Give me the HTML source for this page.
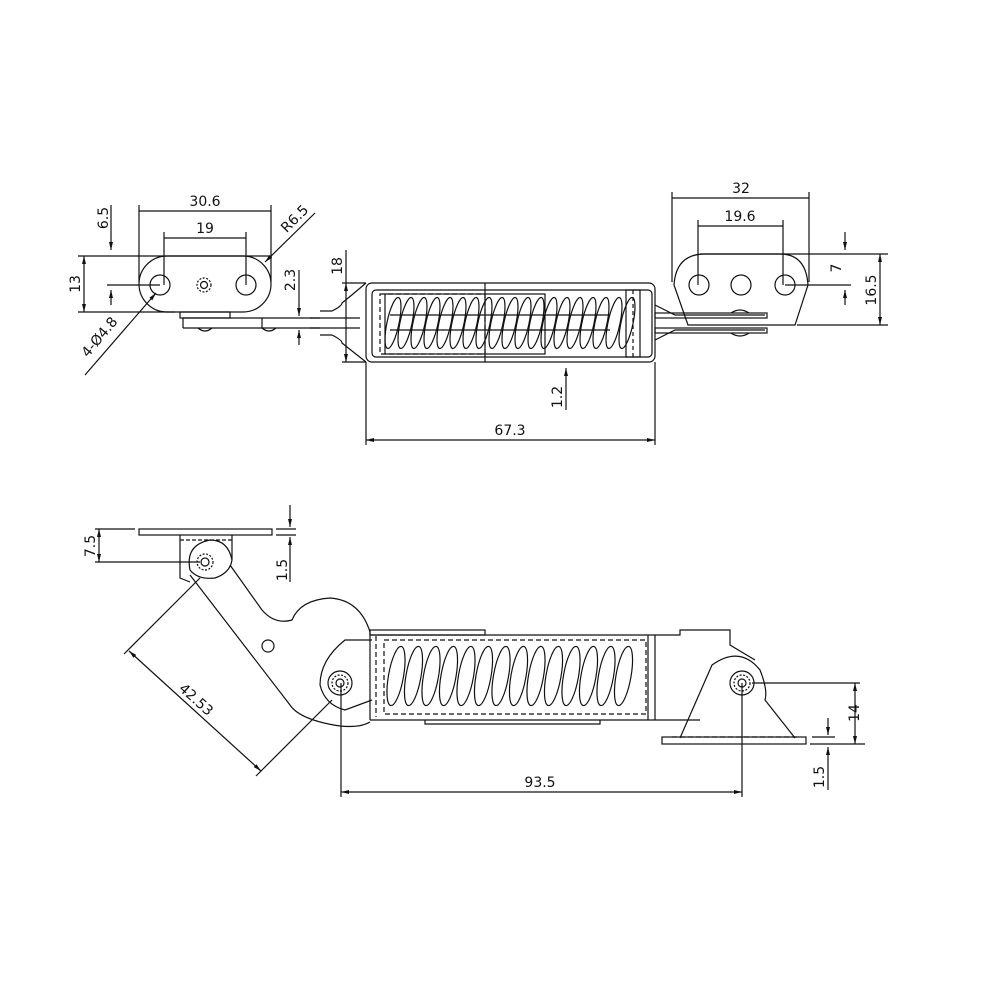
<!DOCTYPE html>
<html><head><meta charset="utf-8"><style>
html,body{margin:0;padding:0;background:#fff;}
svg{display:block;}
text{font-family:"DejaVu Sans","Liberation Sans",sans-serif;font-size:14px;fill:#111;}
</style></head><body>
<svg width="1000" height="1000" viewBox="0 0 1000 1000" xmlns="http://www.w3.org/2000/svg">
<defs>
<marker id="a" markerWidth="8" markerHeight="6" refX="8" refY="3" orient="auto-start-reverse" markerUnits="userSpaceOnUse"><path d="M0,1 L8,3 L0,5z" fill="#111"/></marker>
<ellipse id="c1" cx="0" cy="0" rx="6" ry="26" transform="rotate(12)"/>
<ellipse id="c2" cx="0" cy="0" rx="7.5" ry="30" transform="rotate(10)"/>
</defs>
<g fill="none" stroke="#111" stroke-width="1.2">
<!-- TOP LEFT PLATE -->
<rect x="139" y="256" width="132" height="56" rx="28"/>
<circle cx="160" cy="285" r="10"/><circle cx="246" cy="285" r="10"/>
<circle cx="204" cy="285" r="7" stroke-dasharray="2,1.5"/><circle cx="204" cy="285" r="3.5"/>
<line x1="139" y1="211" x2="271" y2="211"/><line x1="139" y1="205" x2="139" y2="282"/><line x1="271" y1="205" x2="271" y2="282"/>
<line x1="164" y1="238" x2="246" y2="238"/><line x1="164" y1="232" x2="164" y2="285"/><line x1="246" y1="232" x2="246" y2="285"/>
<line x1="265" y1="262" x2="315" y2="213" marker-start="url(#a)"/>
<line x1="111" y1="205" x2="111" y2="250" marker-end="url(#a)"/>
<line x1="78" y1="256" x2="272" y2="256"/><line x1="78" y1="312" x2="175" y2="312"/>
<line x1="84" y1="256" x2="84" y2="312" marker-start="url(#a)" marker-end="url(#a)"/>
<line x1="107" y1="285" x2="160" y2="285"/><line x1="111" y1="290" x2="111" y2="305" marker-start="url(#a)"/>
<line x1="156" y1="293" x2="85" y2="375" marker-start="url(#a)"/>
<rect x="180" y="312" width="50" height="6"/>
<line x1="183" y1="318" x2="320" y2="318"/><line x1="183" y1="328" x2="320" y2="328"/><line x1="183" y1="318" x2="183" y2="328"/>
<line x1="262" y1="318" x2="262" y2="328"/>
<path d="M198 328 q7 6 14 0 M262 328 q7 6 14 0"/>
<line x1="299" y1="270" x2="299" y2="316" marker-end="url(#a)"/><line x1="299" y1="345" x2="299" y2="330" marker-end="url(#a)"/>
<!-- neck -->
<path d="M320 311 h12 q10 -5 10 -8 q10 -8 24 -20 M320 335 h12 q10 5 10 8 q10 8 24 19"/>
<path d="M310 318 h50 M310 328 h50"/>
<!-- TOP SPRING BODY -->
<rect x="366" y="283" width="289" height="79" rx="6"/>
<rect x="372" y="290" width="280" height="67" rx="4"/>
<line x1="485" y1="283" x2="485" y2="362"/>
<rect x="380" y="294" width="105" height="60" stroke-dasharray="5,3"/>
<rect x="385" y="294" width="160" height="60"/>
<line x1="390" y1="315" x2="610" y2="315"/><line x1="390" y1="330" x2="610" y2="330"/>
<g transform="translate(0,323)">
<use href="#c1" x="393"/><use href="#c1" x="406"/><use href="#c1" x="419"/><use href="#c1" x="432"/><use href="#c1" x="445"/><use href="#c1" x="458"/><use href="#c1" x="471"/><use href="#c1" x="484"/><use href="#c1" x="497"/><use href="#c1" x="510"/><use href="#c1" x="523"/><use href="#c1" x="536"/><use href="#c1" x="549"/><use href="#c1" x="562"/><use href="#c1" x="575"/><use href="#c1" x="588"/><use href="#c1" x="601"/><use href="#c1" x="614"/><use href="#c1" x="627"/>
</g>
<rect x="626" y="290" width="14" height="67"/>
<line x1="633" y1="290" x2="633" y2="357" stroke-dasharray="4,3"/>
<path d="M655 305 q10 5 20 10 h90 M655 340 q10 -5 20 -10 h90"/>
<line x1="346" y1="283" x2="346" y2="362" marker-start="url(#a)" marker-end="url(#a)"/>
<line x1="342" y1="283" x2="366" y2="283"/><line x1="342" y1="362" x2="366" y2="362"/>
<line x1="346" y1="250" x2="346" y2="283"/>
<line x1="366" y1="362" x2="366" y2="445"/><line x1="655" y1="362" x2="655" y2="445"/>
<line x1="366" y1="440" x2="655" y2="440" marker-start="url(#a)" marker-end="url(#a)"/>
<line x1="566" y1="410" x2="566" y2="368" marker-end="url(#a)"/>
<!-- TOP RIGHT PLATE -->
<path d="M688 325 L674 285 Q676 254 705 254 H780 Q806 254 808 285 L795 325 Z"/>
<circle cx="699" cy="285" r="10"/><circle cx="741" cy="285" r="10"/><circle cx="785" cy="285" r="10"/>
<rect x="655" y="313" width="112" height="5"/><rect x="655" y="328" width="112" height="5"/>
<path d="M731 313 q9 -6 18 0 M731 333 q9 6 18 0"/>
<line x1="672" y1="198" x2="809" y2="198"/><line x1="672" y1="192" x2="672" y2="282"/><line x1="809" y1="192" x2="809" y2="282"/>
<line x1="698" y1="226" x2="783" y2="226"/><line x1="698" y1="220" x2="698" y2="285"/><line x1="783" y1="220" x2="783" y2="285"/>
<line x1="700" y1="254" x2="888" y2="254"/><line x1="797" y1="325" x2="888" y2="325"/>
<line x1="785" y1="285" x2="851" y2="285"/>
<line x1="845" y1="232" x2="845" y2="250" marker-end="url(#a)"/><line x1="845" y1="305" x2="845" y2="290" marker-end="url(#a)"/>
<line x1="880" y1="254" x2="880" y2="325" marker-start="url(#a)" marker-end="url(#a)"/>
<!-- BOTTOM LEFT -->
<rect x="139" y="529" width="133" height="6"/>
<path d="M180 535 V578 L190 582 M232 535 V560"/>
<line x1="180" y1="540" x2="232" y2="540" stroke-dasharray="4,2"/>
<circle cx="205" cy="562" r="8" stroke-dasharray="2,1.5"/><circle cx="205" cy="562" r="4"/>
<path d="M190 570 Q185 545 210 540 Q228 540 232 560 Q230 573 215 578 Q198 580 190 570"/>
<path d="M190 575 L290 705 Q300 720 340 726 Q360 728 370 722"/>
<path d="M230 565 L262 610 Q275 625 292 620 Q300 600 330 598 Q360 600 370 632"/>
<circle cx="268" cy="646" r="6"/>
<path d="M372 640 H345 Q320 660 320 685 Q325 705 345 710 L372 700"/>
<circle cx="340" cy="683" r="12"/><circle cx="340" cy="683" r="8" stroke-dasharray="2,1.5"/><circle cx="340" cy="683" r="4"/>
<line x1="95" y1="529" x2="135" y2="529"/><line x1="95" y1="562" x2="200" y2="562"/>
<line x1="99" y1="529" x2="99" y2="562" marker-start="url(#a)" marker-end="url(#a)"/>
<line x1="290" y1="505" x2="290" y2="527" marker-end="url(#a)"/><line x1="290" y1="582" x2="290" y2="537" marker-end="url(#a)"/>
<line x1="276" y1="529" x2="296" y2="529"/><line x1="276" y1="535" x2="296" y2="535"/>
<line x1="200" y1="578" x2="124" y2="654"/><line x1="332" y1="700" x2="256" y2="776"/>
<line x1="129" y1="651" x2="261" y2="771" marker-start="url(#a)" marker-end="url(#a)"/>
<!-- BOTTOM SPRING BODY -->
<rect x="370" y="630" width="115" height="5"/>
<path d="M370 635 H655 M370 720 H655 M370 630 V720 M425 720 V724 H600 V720"/>
<line x1="376" y1="636" x2="376" y2="717" stroke-dasharray="5,3"/>
<rect x="384" y="640" width="262" height="74" stroke-dasharray="5,3"/>
<line x1="648" y1="635" x2="648" y2="720"/><line x1="655" y1="635" x2="655" y2="720"/>
<g transform="translate(0,676)">
<use href="#c2" x="396"/><use href="#c2" x="413.5"/><use href="#c2" x="431"/><use href="#c2" x="448.5"/><use href="#c2" x="466"/><use href="#c2" x="483.5"/><use href="#c2" x="501"/><use href="#c2" x="518.5"/><use href="#c2" x="536"/><use href="#c2" x="553.5"/><use href="#c2" x="571"/><use href="#c2" x="588.5"/><use href="#c2" x="606"/><use href="#c2" x="623.5"/>
</g>
<path d="M655 635 H680 V630 H730 V645 L755 660"/>
<path d="M655 720 H700"/>
<path d="M680 738 L712 665 Q740 645 760 670 Q768 690 765 700 L795 738"/>
<circle cx="742" cy="683" r="12"/><circle cx="742" cy="683" r="8" stroke-dasharray="2,1.5"/><circle cx="742" cy="683" r="4"/>
<rect x="662" y="737" width="144" height="7"/>
<line x1="672" y1="737" x2="798" y2="737" stroke-dasharray="5,3"/>
<line x1="752" y1="683" x2="860" y2="683"/><line x1="810" y1="744" x2="865" y2="744"/><line x1="812" y1="737" x2="835" y2="737"/>
<line x1="855" y1="683" x2="855" y2="744" marker-start="url(#a)" marker-end="url(#a)"/>
<line x1="828" y1="718" x2="828" y2="735" marker-end="url(#a)"/><line x1="828" y1="790" x2="828" y2="747" marker-end="url(#a)"/>
<line x1="341" y1="683" x2="341" y2="797"/><line x1="742" y1="683" x2="742" y2="797"/>
<line x1="341" y1="792" x2="742" y2="792" marker-start="url(#a)" marker-end="url(#a)"/>
</g>
<g>
<text x="205" y="206" text-anchor="middle">30.6</text>
<text x="205" y="233" text-anchor="middle">19</text>
<text transform="translate(298,222) rotate(-45)" text-anchor="middle">R6.5</text>
<text transform="translate(108,218) rotate(-90)" text-anchor="middle">6.5</text>
<text transform="translate(80,284) rotate(-90)" text-anchor="middle">13</text>
<text transform="translate(103,340) rotate(-50)" text-anchor="middle">4-Ø4.8</text>
<text transform="translate(295,280) rotate(-90)" text-anchor="middle">2.3</text>
<text transform="translate(342,266) rotate(-90)" text-anchor="middle">18</text>
<text transform="translate(562,397) rotate(-90)" text-anchor="middle">1.2</text>
<text x="510" y="435" text-anchor="middle">67.3</text>
<text x="741" y="193" text-anchor="middle">32</text>
<text x="740" y="221" text-anchor="middle">19.6</text>
<text transform="translate(841,268) rotate(-90)" text-anchor="middle">7</text>
<text transform="translate(876,290) rotate(-90)" text-anchor="middle">16.5</text>
<text transform="translate(95,546) rotate(-90)" text-anchor="middle">7.5</text>
<text transform="translate(287,570) rotate(-90)" text-anchor="middle">1.5</text>
<text transform="translate(193,703) rotate(42)" text-anchor="middle">42.53</text>
<text x="540" y="787" text-anchor="middle">93.5</text>
<text transform="translate(859,713) rotate(-90)" text-anchor="middle">14</text>
<text transform="translate(824,777) rotate(-90)" text-anchor="middle">1.5</text>
</g>
</svg>
</body></html>
